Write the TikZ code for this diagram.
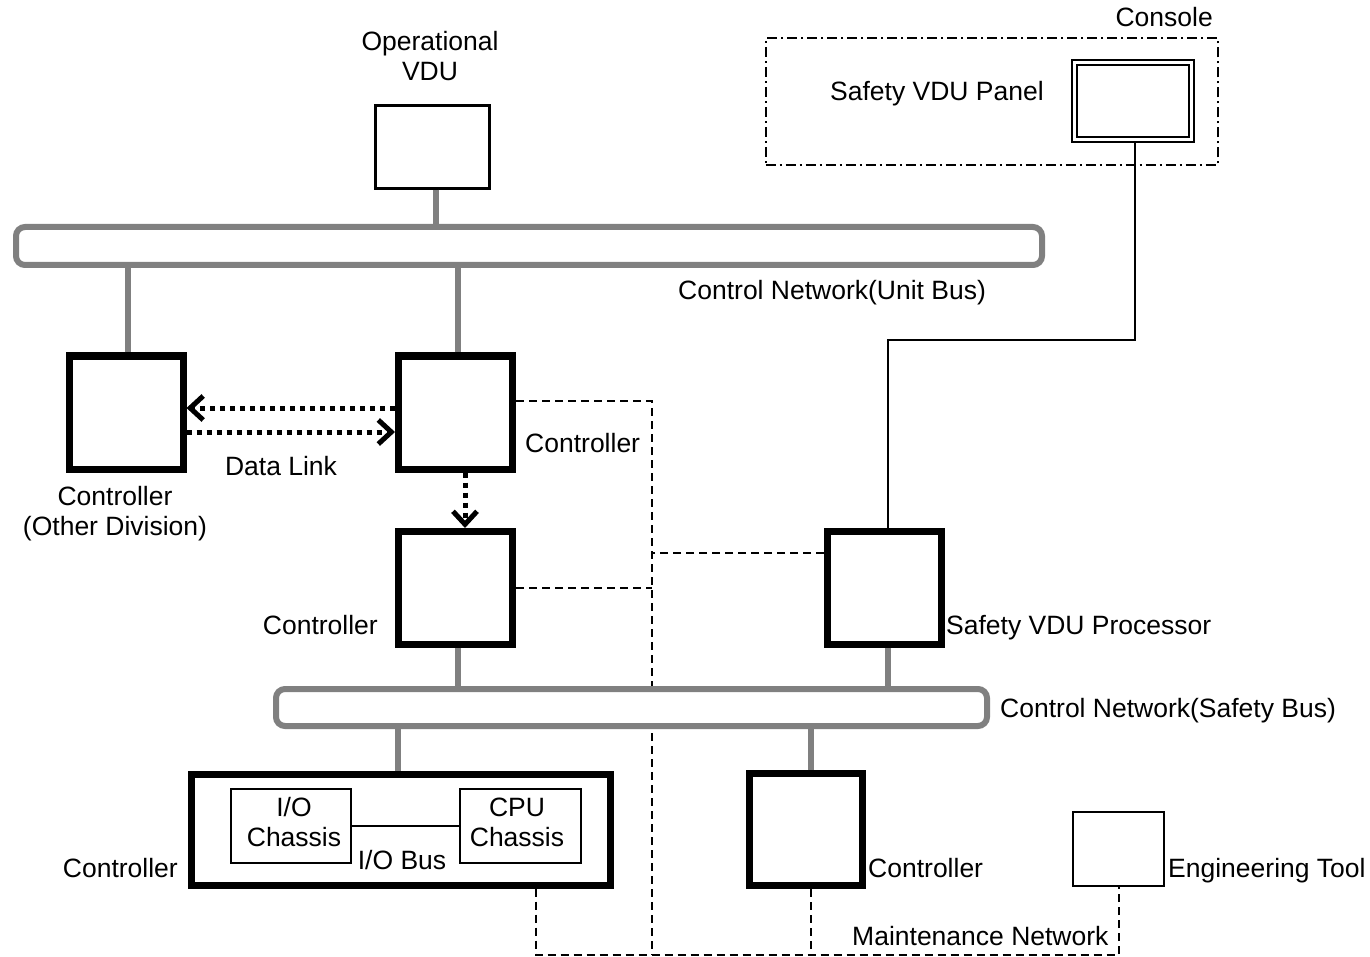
\documentclass[tikz,border=0pt]{standalone}
\usepackage{fontspec}
\setmainfont{Liberation Sans}
\usetikzlibrary{arrows.meta,backgrounds}
\definecolor{busgray}{RGB}{128,128,128}
\tikzset{
  lbl/.style={inner sep=0pt, font=\fontsize{26.5}{30}\selectfont},
  mlbl/.style={lbl, align=center},
  ctrlbox/.style={draw, line width=7pt, fill=white, inner sep=0pt,
                  minimum width=114pt, minimum height=113pt},
  thinbox/.style={draw, line width=2.5pt, fill=white, inner sep=0pt},
  busbar/.style={draw=busgray, line width=6pt, fill=white, rounded corners=9pt, inner sep=0pt},
  buslink/.style={draw=busgray, line width=6pt},
  maint/.style={line width=2pt, dash pattern=on 8pt off 5pt},
  datalink/.style={line width=5pt, dash pattern=on 5pt off 5pt,
                   -{Straight Barb[length=13pt, width=24pt, line width=5pt]}},
  wire/.style={line width=2pt},
}
\begin{document}
\begin{tikzpicture}[x=1pt, y=-1pt]
\useasboundingbox (0,0) rectangle (1370,957);

% --- networks ---
\node[busbar, minimum width=1026pt, minimum height=38pt] (unitbus) at (529,246) {};
\node[busbar, minimum width=711pt, minimum height=37pt] (safetybus) at (631.5,707.5) {};
\node[lbl, anchor=base west] at (678,300) {Control Network(Unit Bus)};
\node[lbl, anchor=base west] at (1000,717) {Control Network(Safety Bus)};

% --- operational VDU ---
\node[thinbox, minimum width=114pt, minimum height=83pt] (opvdu) at (432.5,147) {};
\node[mlbl] at (430,56.5) {Operational\\VDU};

% --- console with safety VDU panel ---
\node[draw, line width=2pt, dash pattern=on 10pt off 4pt on 2pt off 4pt,
      inner sep=0pt, minimum width=452pt, minimum height=127pt] (console) at (991.5,102) {};
\node[lbl, anchor=base east] at (1213,27) {Console};
\node[draw, line width=2pt, double, double distance=3pt, fill=white, inner sep=0pt,
      minimum width=117pt, minimum height=77pt] (panel) at (1132.5,101.5) {};
\node[lbl] at (937,94) {Safety VDU Panel};

% --- controllers ---
\node[ctrlbox] (ctrlA) at (126,412.5) {};
\node[mlbl] at (115,514) {Controller\\(Other Division)};
\node[ctrlbox] (ctrlB) at (455.5,412.5) {};
\node[lbl, anchor=base west] at (525,452) {Controller};
\node[ctrlbox] (ctrlC) at (455.5,588) {};
\node[lbl, anchor=base east] at (378,634) {Controller};
\node[ctrlbox] (svp) at (884.5,588) {};
\node[lbl, anchor=base west] at (946,634) {Safety VDU Processor};

\node[ctrlbox, minimum width=419pt, minimum height=111pt] (bigctrl) at (400.5,829.5) {};
\node[lbl, anchor=base east] at (178,877) {Controller};
\node[draw, line width=2pt, inner sep=0pt, minimum width=120pt, minimum height=74pt]
  (iochassis) at (291,826) {};
\node[mlbl] at (294,822.5) {I/O\\Chassis};
\node[draw, line width=2pt, inner sep=0pt, minimum width=121pt, minimum height=74pt]
  (cpuchassis) at (520.5,826) {};
\node[mlbl] at (517,822.5) {CPU\\Chassis};
\node[lbl] at (402,860) {I/O Bus};

\node[ctrlbox, minimum width=113pt, minimum height=112pt] (brctrl) at (806,829.5) {};
\node[lbl, anchor=base west] at (868,877) {Controller};

\node[thinbox, minimum width=91pt, minimum height=74pt] (engtool) at (1118.5,849) {};
\node[lbl, anchor=base west] at (1168,877) {Engineering Tool};
\node[lbl, anchor=base west] at (852,945) {Maintenance Network};

% --- bus drops ---
\draw[buslink] ([xshift=3.5pt]opvdu.south) -- ([xshift=3.5pt]opvdu.south |- unitbus.north);
\draw[buslink] ([xshift=2pt]ctrlA.north) -- ([xshift=2pt]ctrlA.north |- unitbus.south);
\draw[buslink] ([xshift=2.5pt]ctrlB.north) -- ([xshift=2.5pt]ctrlB.north |- unitbus.south);
\draw[buslink] ([xshift=2.5pt]ctrlC.south) -- ([xshift=2.5pt]ctrlC.south |- safetybus.north);
\draw[buslink] ([xshift=3.5pt]svp.south) -- ([xshift=3.5pt]svp.south |- safetybus.north);
\draw[buslink] ([xshift=-2.5pt]bigctrl.north) -- ([xshift=-2.5pt]bigctrl.north |- safetybus.south);
\draw[buslink] ([xshift=5pt]brctrl.north) -- ([xshift=5pt]brctrl.north |- safetybus.south);

% --- I/O bus inside the controller ---
\draw[wire] (iochassis.east) -- (cpuchassis.west);

% --- data links ---
\draw[datalink] ([yshift=4.5pt]ctrlB.west) -- ([yshift=4.5pt]ctrlA.east);
\draw[datalink] ([yshift=-19.5pt]ctrlA.east) -- ([yshift=-19.5pt]ctrlB.west);
\node[lbl] at (281,466) {Data Link};
\draw[datalink] ([xshift=9.5pt]ctrlB.south) -- ([xshift=9.5pt]ctrlC.north);

% --- safety VDU panel cable ---
\coordinate (cableturn) at (0,340);
\draw[wire] ([xshift=3.5pt]svp.north) -- ([xshift=3.5pt]svp.north |- cableturn)
  -| ([xshift=2.5pt]panel.south);

% --- maintenance network (behind boxes and buses) ---
\coordinate (mtrunk) at (652,955);
\coordinate (mleft) at (536,955);
\begin{pgfonlayer}{background}
  \draw[maint] ([yshift=11.5pt]ctrlB.east) -| (mtrunk);
  \draw[maint] (ctrlC.east) -- (ctrlC.east -| mtrunk);
  \draw[maint] ([yshift=35pt]svp.west) -- ([yshift=35pt]svp.west -| mtrunk);
  \draw[maint] (mleft |- bigctrl.south) -- (mleft) -- (mleft -| engtool.south) -- (engtool.south);
  \draw[maint] ([xshift=5pt]brctrl.south) -- ([xshift=5pt]brctrl.south |- mleft);
\end{pgfonlayer}
\end{tikzpicture}
\end{document}
